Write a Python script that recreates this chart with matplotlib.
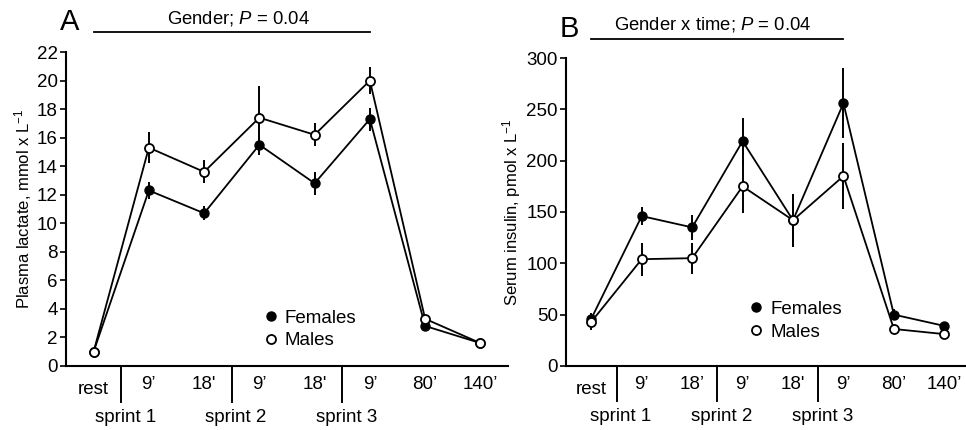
import numpy as np
import matplotlib
matplotlib.use("Agg")
import matplotlib.pyplot as plt
from matplotlib.lines import Line2D
import matplotlib.transforms as mtransforms

plt.rcParams['font.family'] = ['Liberation Sans', 'DejaVu Sans']
plt.rcParams['mathtext.fontset'] = 'custom'
plt.rcParams['mathtext.rm'] = 'Liberation Sans'
plt.rcParams['mathtext.it'] = 'Liberation Sans:italic'

# time points (same for both panels)
labels_a = ['rest', '9\u2019', "18'", '9\u2019', "18'", '9\u2019', '80\u2019', '140\u2019']
labels_b = ['rest', '9\u2019', '18\u2019', '9\u2019', "18'", '9\u2019', '80\u2019', '140\u2019']
sprints = ['sprint 1', 'sprint 2', 'sprint 3']

# panel A: plasma lactate, mmol/L
lac_f = [1.0, 12.3, 10.7, 15.5, 12.8, 17.3, 2.8, 1.6]
lac_f_err = [0.1, 0.6, 0.5, 0.7, 0.8, 0.8, 0.2, 0.1]
lac_m = [1.0, 15.3, 13.6, 17.4, 16.2, 20.0, 3.3, 1.6]
lac_m_err = [0.1, 1.1, 0.8, 2.2, 0.8, 0.95, 0.2, 0.1]

# panel B: serum insulin, pmol/L
ins_f = [46, 146, 135, 219, 142, 256, 50, 39]
ins_f_err = [6, 9, 12, 23, 26, 34, 5, 3]
ins_m = [43, 104, 105, 175, 142, 185, 36, 31]
ins_m_err = [8, 16, 15, 26, 26, 32, 4, 3]

x = np.arange(len(labels_a))
FS = 13.5


def draw_panel(ax, fem, fem_err, mal, mal_err, labels, xmax, ymax, ystep,
               ylabel, letter, stat_text, text_x, sep_depth):
    ax.errorbar(x, fem, yerr=fem_err, color='black', lw=1.3, elinewidth=1.4,
                capsize=0, marker='o', ms=6.5, mfc='black', mec='black', zorder=3)
    ax.errorbar(x, mal, yerr=mal_err, color='black', lw=1.3, elinewidth=1.4,
                capsize=0, marker='o', ms=6.5, mfc='white', mec='black',
                mew=1.3, zorder=4)
    ax.set_xlim(-0.5, xmax)
    ax.set_ylim(0, ymax)
    ax.set_yticks(np.arange(0, ymax + 0.1, ystep))
    ax.tick_params(axis='y', labelsize=FS, length=4, width=1.2, direction='out',
                   pad=2)
    ax.set_xticks([])
    for s in ['top', 'right']:
        ax.spines[s].set_visible(False)
    for s in ['left', 'bottom']:
        ax.spines[s].set_linewidth(1.5)
    ax.set_ylabel(ylabel, fontsize=12, labelpad=2)

    trans = mtransforms.blended_transform_factory(ax.transData, ax.transAxes)
    for i, lab in enumerate(labels):
        yy = -0.075 if i == 0 else -0.06
        ax.text(x[i], yy, lab, transform=trans, ha='center', va='center',
                fontsize=FS, clip_on=False)
    for k, xs in enumerate([0.5, 2.5, 4.5]):
        ax.plot([xs, xs], [0, -sep_depth], transform=trans, color='black',
                lw=1.4, clip_on=False)
        ax.text(xs + 0.08, -0.163, sprints[k], transform=trans, ha='center',
                va='center', fontsize=FS, clip_on=False)

    ax.plot([0, 5], [1.063, 1.063], transform=trans, color='black', lw=1.3,
            clip_on=False)
    ax.text(text_x, 1.108, stat_text, transform=trans, ha='center', va='center',
            fontsize=13.3)
    ax.text(-0.44, 1.095, letter, transform=trans, ha='center', va='center',
            fontsize=21)


fig = plt.figure(figsize=(9.66, 4.30), dpi=100)
ax1 = fig.add_axes([0.0683, 0.149, 0.4576, 0.730])
ax2 = fig.add_axes([0.586, 0.149, 0.414, 0.716])

draw_panel(ax1, lac_f, lac_f_err, lac_m, lac_m_err, labels_a, 7.5, 22, 2,
           'Plasma lactate, mmol x L$^{-1}$', 'A', 'Gender; $P$ = 0.04', 2.62, 0.115)
draw_panel(ax2, ins_f, ins_f_err, ins_m, ins_m_err, labels_b, 7.43, 300, 50,
           'Serum insulin, pmol x L$^{-1}$', 'B', 'Gender x time; $P$ = 0.04', 2.4, 0.115)

handles = [Line2D([], [], ls='none', marker='o', ms=6.5, mfc='black', mec='black'),
           Line2D([], [], ls='none', marker='o', ms=6.5, mfc='white', mec='black', mew=1.3)]
for ax, anchor in [(ax1, (0.446, 0.18)), (ax2, (0.457, 0.212))]:
    ax.legend(handles, ['Females', 'Males'], loc='upper left', bbox_to_anchor=anchor,
              frameon=False, fontsize=FS, handlelength=0.8, handletextpad=0.35,
              labelspacing=0.3, borderpad=0, borderaxespad=0)

fig.savefig('out.png', dpi=100)
